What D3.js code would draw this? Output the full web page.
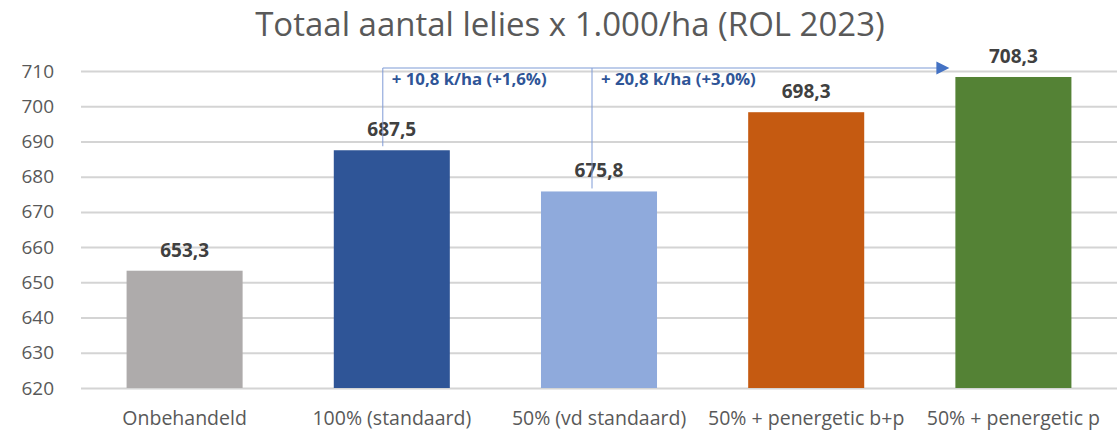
<!DOCTYPE html>
<html>
<head>
  <meta charset="utf-8">
  <title>Totaal aantal lelies</title>
  <script src="https://d3js.org/d3.v7.min.js"></script>
  <style>
    body { margin: 0; background: #fff; }
    text { font-family: "Open Sans", "Noto Sans", sans-serif; }
  </style>
</head>
<body>
<script>
  // chart data
  var categories = ["Onbehandeld", "100% (standaard)", "50% (vd standaard)", "50% + penergetic b+p", "50% + penergetic p"];
  var values = [653.3, 687.5, 675.8, 698.3, 708.3];
  var barColors = ["#AEABAB", "#2F5597", "#8FAADC", "#C55A11", "#548235"];
  var yTicks = [620, 630, 640, 650, 660, 670, 680, 690, 700, 710];
  var annotations = ["+ 10,8 k/ha (+1,6%)", "+ 20,8 k/ha (+3,0%)"];

  var width = 1117, height = 431;
  var plotLeft = 81, plotRight = 1117, plotTop = 71, plotBottom = 388;

  var fmt = function (v) { return d3.format(".1f")(v).replace(".", ","); };

  var svg = d3.select("body").append("svg")
      .attr("width", width)
      .attr("height", height);

  var x = d3.scaleBand()
      .domain(categories)
      .range([plotLeft, plotRight])
      .paddingInner(0.44)
      .paddingOuter(0.22);

  var y = d3.scaleLinear()
      .domain([620, 710])
      .range([plotBottom, plotTop]);

  // title
  svg.append("text")
      .attr("x", 570)
      .attr("y", 36)
      .attr("text-anchor", "middle")
      .style("font-size", "33px")
      .style("fill", "#595959")
      .text("Totaal aantal lelies x 1.000/ha (ROL 2023)");

  // gridlines + y labels
  var yAxis = svg.append("g")
      .attr("transform", "translate(" + plotLeft + ",0)")
      .call(d3.axisLeft(y).tickValues(yTicks).tickSize(-(plotRight - plotLeft)).tickPadding(27));
  yAxis.select(".domain").remove();
  yAxis.selectAll(".tick line").attr("stroke", "#d4d4d4").attr("stroke-width", 2);
  yAxis.selectAll(".tick text")
      .style("font-size", "19px")
      .style("fill", "#595959");

  // bars
  svg.selectAll("rect.bar")
      .data(values)
      .enter()
      .append("rect")
        .attr("class", "bar")
        .attr("x", function (d, i) { return x(categories[i]); })
        .attr("y", function (d) { return y(d); })
        .attr("width", x.bandwidth())
        .attr("height", function (d) { return y(620) - y(d); })
        .attr("fill", function (d, i) { return barColors[i]; });

  // value labels
  svg.selectAll("text.val")
      .data(values)
      .enter()
      .append("text")
        .attr("class", "val")
        .attr("x", function (d, i) { return x(categories[i]) + x.bandwidth() / 2; })
        .attr("y", function (d) { return y(d) - 14; })
        .attr("text-anchor", "middle")
        .style("font-size", "19px")
        .style("font-weight", "bold")
        .style("fill", "#404040")
        .text(fmt);

  // x labels
  var xAxis = svg.append("g")
      .attr("transform", "translate(0," + plotBottom + ")")
      .call(d3.axisBottom(x).tickSize(0).tickPadding(23.5));
  xAxis.select(".domain").remove();
  xAxis.selectAll(".tick text")
      .style("font-size", "19.5px")
      .style("fill", "#595959");

  // difference annotation (lines + arrow)
  var lineY = y(710) - 3;
  var x1 = x(categories[1]) + x.bandwidth() / 2 - 9;
  var x2 = x(categories[2]) + x.bandwidth() / 2 - 7;
  var xEnd = x(categories[4]) - 6;
  var lineColor = "#7f9bd6";

  svg.append("line")
      .attr("x1", x1).attr("x2", x1)
      .attr("y1", y(values[1]) - 4).attr("y2", lineY)
      .attr("stroke", lineColor).attr("stroke-width", 1);
  svg.append("line")
      .attr("x1", x2).attr("x2", x2)
      .attr("y1", y(values[2]) - 3).attr("y2", lineY)
      .attr("stroke", lineColor).attr("stroke-width", 1);
  svg.append("line")
      .attr("x1", x1).attr("x2", xEnd - 12)
      .attr("y1", lineY).attr("y2", lineY)
      .attr("stroke", lineColor).attr("stroke-width", 1.2);
  svg.append("path")
      .attr("d", "M" + (xEnd - 13) + "," + (lineY - 6.5) + "L" + xEnd + "," + lineY + "L" + (xEnd - 13) + "," + (lineY + 6.5) + "Z")
      .attr("fill", "#4472C4");

  svg.selectAll("text.ann")
      .data(annotations)
      .enter()
      .append("text")
        .attr("class", "ann")
        .attr("x", function (d, i) { return (i === 0 ? x1 : x2) + 9; })
        .attr("y", 85)
        .style("font-size", "16.8px")
        .style("font-weight", "bold")
        .style("fill", "#2F5597")
        .text(function (d) { return d; });
</script>
</body>
</html>
